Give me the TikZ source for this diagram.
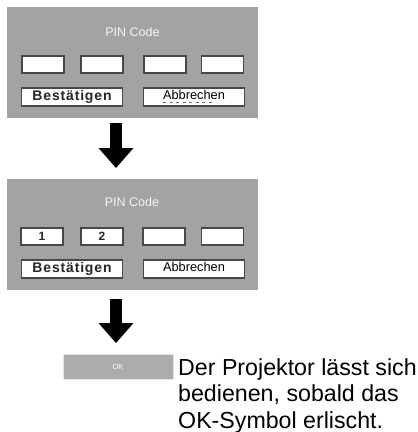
\documentclass[tikz,border=0pt]{standalone}
\usepackage{fontspec}
\setmainfont{Liberation Sans}
\usetikzlibrary{arrows.meta, positioning}

\definecolor{panelgray}{RGB}{163,163,163}
\definecolor{framegray}{RGB}{72,72,72}
\definecolor{okgray}{RGB}{172,172,172}

\begin{document}
\begin{tikzpicture}[
    x=1pt, y=-1pt,
    % Styles
    panel/.style={fill=panelgray, minimum width=251, minimum height=111, inner sep=0pt},
    pintitle/.style={font=\fontsize{12.5}{14}\selectfont, text=white!92!gray},
    digitbox/.style={draw=framegray, line width=1.3pt, fill=white, minimum width=42, minimum height=17, inner sep=0pt, font=\bfseries\fontsize{12}{13}\selectfont, text=black!85},
    button/.style={draw=framegray, line width=1.3pt, fill=white, minimum width=101, minimum height=18, inner sep=0pt},
    oklabel/.style={font=\bfseries\fontsize{14}{16}\selectfont\addfontfeatures{LetterSpace=6}, inner sep=0pt, text=black!85},
    cancellabel/.style={font=\fontsize{12.8}{14}\selectfont, inner sep=0pt},
    bigarrow/.style={line width=12pt, -{Triangle[width=35pt, length=20pt, line width=0pt]}},
    okbar/.style={fill=okgray, draw=white!80!gray, line width=0.8pt, minimum width=110, minimum height=25, inner sep=0pt, font=\fontsize{7.5}{8}\selectfont, text=white},
    note/.style={font=\fontsize{23.2}{26.5}\selectfont, align=left, inner sep=0pt}
]
    \useasboundingbox (0,0) rectangle (418,432);

    % First screen: empty PIN code
    \node[panel] (pin1) at (132.5,62.5) {};
    \node[pintitle] (title1) at (132.5,32) {PIN Code};
    \node[digitbox] (d11) at (43,64.5) {};
    \node[digitbox] (d12) at (102,64.5) {};
    \node[digitbox] (d13) at (165,64.5) {};
    \node[digitbox] (d14) at (222.5,64.5) {};
    \node[button] (ok1) at (72,97) {};
    \node[oklabel] at (ok1.center) {Bestätigen};
    \node[button] (cancel1) at (194,97) {};
    \node[cancellabel] at ([yshift=2.5pt]cancel1.center) {Abbrechen};
    \draw[framegray!80, line width=1pt, dash pattern=on 3pt off 3.5pt] ([xshift=-31pt, yshift=-5pt]cancel1.center) -- ([xshift=19pt, yshift=-5pt]cancel1.center);

    % Arrow to second screen
    \coordinate (a1top) at (116,123);
    \coordinate (a1tip) at (116,168);
    \draw[bigarrow] (a1top) -- (a1tip);

    % Second screen: two digits entered
    \node[panel] (pin2) at (132,234.5) {};
    \node[pintitle] (title2) at (132,202) {PIN Code};
    \node[digitbox] (d21) at (42,236.5) {1};
    \node[digitbox] (d22) at (102,236.5) {2};
    \node[digitbox] (d23) at (164,236.5) {};
    \node[digitbox] (d24) at (222.5,236.5) {};
    \node[button] (ok2) at (72,269) {};
    \node[oklabel] at (ok2.center) {Bestätigen};
    \node[button] (cancel2) at (194,269) {};
    \node[cancellabel] at ([yshift=2.5pt]cancel2.center) {Abbrechen};

    % Arrow to OK symbol
    \coordinate (a2top) at (116,299);
    \coordinate (a2tip) at (116,343);
    \draw[bigarrow] (a2top) -- (a2tip);

    % OK symbol and note
    \node[okbar] (okbar) at (118,366.5) {OK};
    \node[note, anchor=north west] (note) at (178,358) {Der Projektor lässt sich\\bedienen, sobald das\\OK-Symbol erlischt.};
\end{tikzpicture}
\end{document}
